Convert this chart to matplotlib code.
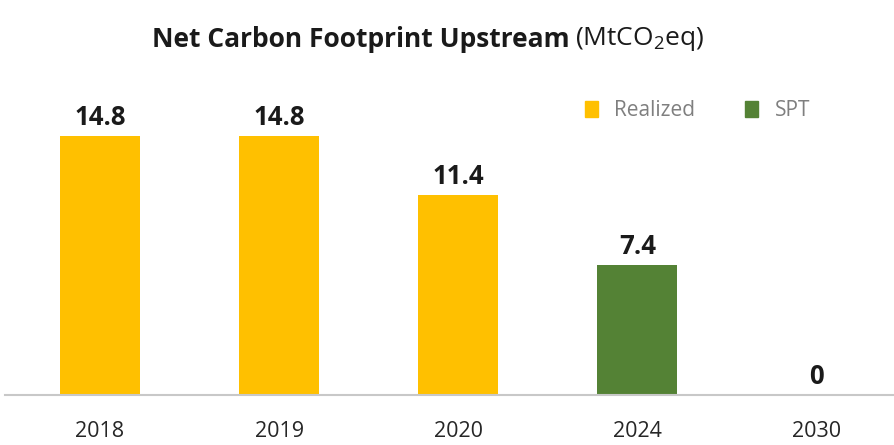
import matplotlib
matplotlib.use("Agg")
import matplotlib.pyplot as plt
from matplotlib.patches import Patch

# dados
anos = ["2018", "2019", "2020", "2024", "2030"]
valores = [14.8, 14.8, 11.4, 7.4, 0]
tipo = ["Realized", "Realized", "Realized", "SPT", "SPT"]
rotulos = ["14.8", "14.8", "11.4", "7.4", "0"]

cores = {"Realized": "#FFC000", "SPT": "#548235"}

plt.rcParams["font.family"] = ["Open Sans", "DejaVu Sans"]
plt.rcParams["mathtext.fontset"] = "custom"
plt.rcParams["mathtext.rm"] = "Open Sans"

fig = plt.figure(figsize=(8.95, 4.45), dpi=100)
ax = fig.add_axes([0.0056, 0.1124, 0.994, 0.7528])

pos = list(range(len(anos)))
ax.bar(pos, valores, width=0.447, color=[cores[t] for t in tipo])

for p, v, r in zip(pos, valores, rotulos):
    ax.text(p, v + 0.3, r, ha="center", va="bottom", fontsize=18.5,
            fontweight="bold", color="#1a1a1a")

ax.set_xlim(-0.53, 4.436)
ax.set_ylim(0, 19.14)
ax.set_xticks(pos)
ax.set_xticklabels(anos, fontsize=15.5, color="#262626")
ax.tick_params(axis="x", length=0, pad=19)
ax.set_yticks([])
for s in ["top", "right", "left"]:
    ax.spines[s].set_visible(False)
ax.spines["bottom"].set_color("#c8c8c8")
ax.spines["bottom"].set_linewidth(1.5)

# titulo em duas partes
fig.text(0.637, 0.912, "Net Carbon Footprint Upstream", ha="right", va="center",
         fontsize=19, fontweight="bold", color="#1a1a1a")
fig.text(0.643, 0.912, "(MtCO$_2$eq)", ha="left", va="center",
         fontsize=19, color="#1a1a1a")

handles = [Patch(color=cores["Realized"], label="Realized"),
           Patch(color=cores["SPT"], label="SPT")]
leg = ax.legend(handles=handles, ncol=2, frameon=False, loc="center left",
                bbox_to_anchor=(0.633, 0.752), bbox_transform=fig.transFigure,
                handlelength=0.6, handleheight=0.8, handletextpad=0.8,
                columnspacing=2.4, fontsize=15)
for t in leg.get_texts():
    t.set_color("#7f7f7f")

fig.savefig("out.png", dpi=100)
